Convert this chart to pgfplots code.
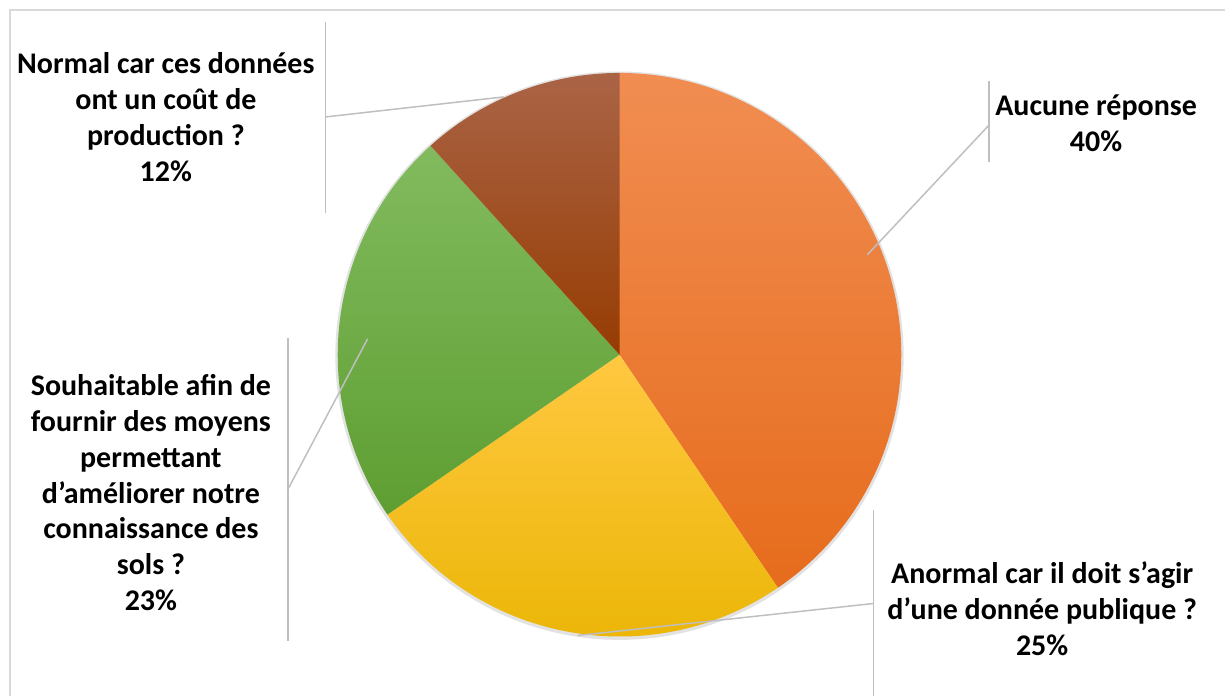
\documentclass[border=0pt]{standalone}
\usepackage{pgfplots}
\pgfplotsset{compat=1.18}
\usepackage{pgfplotstable}
\usepackage{fontspec}
\setmainfont{Carlito}

\definecolor{oT}{HTML}{F18D52}
\definecolor{oB}{HTML}{E66C1C}
\definecolor{yT}{HTML}{FFC841}
\definecolor{yB}{HTML}{E9B400}
\definecolor{gT}{HTML}{82BB5F}
\definecolor{gB}{HTML}{5E9E31}
\definecolor{bT}{HTML}{AA6446}
\definecolor{bB}{HTML}{963C02}
\definecolor{leader}{HTML}{BFBFBF}
\definecolor{frame}{HTML}{D9D9D9}

\pgfplotstableread{
label value
Aucune 40.5
Anormal 24.9
Souhaitable 22.9
Normal 11.7
}\piedata

\begin{document}
\begin{tikzpicture}
\pgfplotstablegetelem{0}{value}\of\piedata\let\vA\pgfplotsretval
\pgfplotstablegetelem{1}{value}\of\piedata\let\vB\pgfplotsretval
\pgfplotstablegetelem{2}{value}\of\piedata\let\vC\pgfplotsretval
\pgfplotstablegetelem{3}{value}\of\piedata\let\vD\pgfplotsretval
\pgfmathsetmacro\aA{90}
\pgfmathsetmacro\aB{\aA-3.6*\vA}
\pgfmathsetmacro\aC{\aB-3.6*\vB}
\pgfmathsetmacro\aD{\aC-3.6*\vC}
\pgfmathsetmacro\aE{\aD-3.6*\vD}
\begin{axis}[x=0.5pt,y=0.5pt,y dir=reverse,
  xmin=0,xmax=1226,ymin=0,ymax=697,
  hide axis, clip=false]
\path (axis cs:0,0) rectangle (axis cs:1226,697);
% frame
\draw[frame, line width=1pt] (axis cs:10,697) -- (axis cs:10,10) -- (axis cs:1226,10);
% shadow
\fill[gray!45, opacity=0.5] (axis cs:620,356) circle[radius=142.2pt];
% slices
\shade[top color=oT, bottom color=oB] (axis cs:620,355) -- ++(\aA:141pt) arc[start angle=\aA, end angle=\aB, radius=141pt] -- cycle;
\shade[top color=yT, bottom color=yB] (axis cs:620,355) -- ++(\aB:141pt) arc[start angle=\aB, end angle=\aC, radius=141pt] -- cycle;
\shade[top color=gT, bottom color=gB] (axis cs:620,355) -- ++(\aC:141pt) arc[start angle=\aC, end angle=\aD, radius=141pt] -- cycle;
\shade[top color=bT, bottom color=bB] (axis cs:620,355) -- ++(\aD:141pt) arc[start angle=\aD, end angle=\aE, radius=141pt] -- cycle;
% leader lines
\draw[leader, line width=0.75pt] (axis cs:868,255) -- (axis cs:990,125);
\draw[leader, line width=0.75pt] (axis cs:990,81) -- (axis cs:990,162);
\draw[leader, line width=0.75pt] (axis cs:578,636) -- (axis cs:874,604);
\draw[leader, line width=0.75pt] (axis cs:874,510) -- (axis cs:874,697);
\draw[leader, line width=0.75pt] (axis cs:368,339) -- (axis cs:288,490);
\draw[leader, line width=0.75pt] (axis cs:288,338) -- (axis cs:288,642);
\draw[leader, line width=0.75pt] (axis cs:504,97) -- (axis cs:326,117);
\draw[leader, line width=0.75pt] (axis cs:326,22) -- (axis cs:326,213);
% labels
\tikzset{lbl/.style={align=center, inner sep=0pt, font=\fontsize{15}{18}\selectfont\bfseries}}
\node[lbl] at (axis cs:1097,123) {Aucune réponse\\40\%};
\node[lbl] at (axis cs:1043,609) {Anormal car il doit s’agir\\d’une donnée publique ?\\25\%};
\node[lbl] at (axis cs:151,493) {Souhaitable afin de\\fournir des moyens\\permettant\\d’améliorer notre\\connaissance des\\sols ?\\23\%};
\node[lbl] at (axis cs:166,117) {Normal car ces données\\ont un coût de\\production ?\\12\%};
\end{axis}
\end{tikzpicture}
\end{document}
